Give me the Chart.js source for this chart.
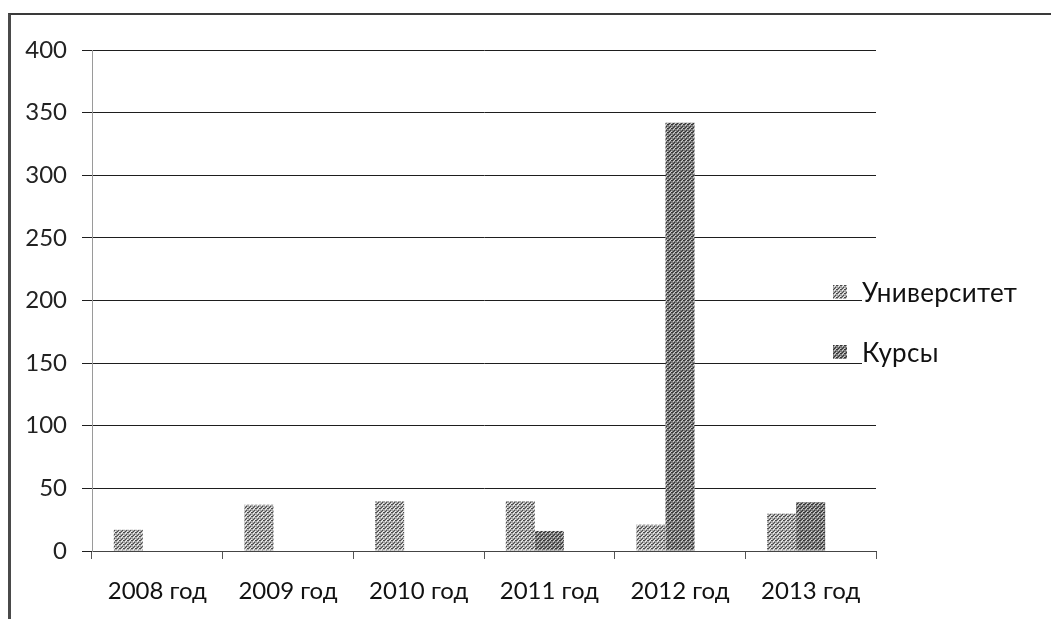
<!DOCTYPE html>
<html>
<head>
<meta charset="utf-8">
<script src="https://cdn.jsdelivr.net/npm/chart.js@4/dist/chart.umd.min.js"></script>
<style>
  html, body { margin: 0; padding: 0; background: #fff; }
  #wrap { position: relative; width: 1051px; height: 619px; overflow: hidden; background: #fff; }
  #frame { position: absolute; left: 8px; top: 13px; width: 1060px; height: 640px;
           border-left: 3px solid #4a4a4a; border-top: 2px solid #3a3a3a; box-sizing: border-box; }
  #c { position: absolute; left: 0; top: 0; }
  #legend { position: absolute; left: 833px; top: 277px; font-family: Lato, "Open Sans", sans-serif;
            font-size: 26px; line-height: 30px; color: #111; }
  .item { display: flex; align-items: center; height: 30px; margin-bottom: 30px; }
  .sw { width: 14px; height: 14px; margin-right: 15px; background-repeat: repeat; }
  .lbl { background: #fff; padding-right: 2px; letter-spacing: 0.3px; }
</style>
</head>
<body>
<div id="wrap">
  <div id="frame"></div>
  <canvas id="c" width="1051" height="619"></canvas>
  <div id="legend"></div>
</div>
<script>
// ---- data ----
const categories = ['2008 год', '2009 год', '2010 год', '2011 год', '2012 год', '2013 год'];
const seriesNames = ['Университет', 'Курсы'];
const universitet = [17, 37, 40, 40, 21, 30];
const kursy = [0, 0, 0, 16, 342, 39];
const emptySeries = [null, null, null, null, null, null];
const yTicks = [0, 50, 100, 150, 200, 250, 300, 350, 400];

// ---- hatched fills ----
function makeTile(base, dark, light) {
  const t = document.createElement('canvas');
  t.width = 4; t.height = 4;
  const g = t.getContext('2d');
  g.fillStyle = base; g.fillRect(0, 0, 4, 4);
  g.fillStyle = dark;
  g.fillRect(0, 0, 1, 1); g.fillRect(2, 2, 1, 1); g.fillRect(3, 0, 1, 1); g.fillRect(1, 3, 1, 1);
  g.fillStyle = light;
  g.fillRect(1, 1, 1, 1); g.fillRect(3, 3, 1, 1); g.fillRect(2, 0, 1, 1);
  return t;
}
const tileUni = makeTile('#a9a9a9', '#4a4a4a', '#f2f2f2');
const tileKur = makeTile('#7c7c7c', '#333333', '#cfcfcf');
const ctx = document.getElementById('c').getContext('2d');
const patUni = ctx.createPattern(tileUni, 'repeat');
const patKur = ctx.createPattern(tileKur, 'repeat');

// ---- legend (HTML, real text) ----
const legend = document.getElementById('legend');
[[seriesNames[0], tileUni], [seriesNames[1], tileKur]].forEach(([name, tile]) => {
  const it = document.createElement('div'); it.className = 'item';
  const sw = document.createElement('div'); sw.className = 'sw';
  sw.style.backgroundImage = 'url(' + tile.toDataURL() + ')';
  const lb = document.createElement('span'); lb.className = 'lbl'; lb.textContent = name;
  it.appendChild(sw); it.appendChild(lb); legend.appendChild(it);
});

const font = { family: 'Lato, "Open Sans", sans-serif', size: 24 };

new Chart(ctx, {
  type: 'bar',
  data: {
    labels: categories,
    datasets: [
      { label: seriesNames[0], data: universitet, backgroundColor: patUni, borderWidth: 0 },
      { label: seriesNames[1], data: kursy, backgroundColor: patKur, borderWidth: 0 },
      { label: '', data: emptySeries, backgroundColor: '#888', borderWidth: 0 }
    ]
  },
  options: {
    responsive: false,
    animation: false,
    datasets: { bar: { categoryPercentage: 3 / 4.5, barPercentage: 1 } },
    layout: { padding: { left: 10, right: 175, top: 50, bottom: 0 } },
    plugins: { legend: { display: false }, tooltip: { enabled: false } },
    scales: {
      x: {
        offset: true,
        grid: { offset: true, drawOnChartArea: false, drawTicks: true, tickLength: 8, color: '#555' },
        border: { color: '#444', width: 1 },
        ticks: { font: font, color: '#111', padding: 18, maxRotation: 0 },
        afterFit: (s) => { s.height = 68; }
      },
      y: {
        min: 0, max: 400,
        afterBuildTicks: (s) => { s.ticks = yTicks.map(v => ({ value: v })); },
        grid: { color: '#1e1e1e', lineWidth: 1, drawTicks: true, tickLength: 10 },
        border: { color: '#9a9a9a', width: 1 },
        ticks: { font: font, color: '#222', padding: 15 },
        afterFit: (s) => { s.width = 82; }
      }
    }
  }
});
</script>
</body>
</html>
